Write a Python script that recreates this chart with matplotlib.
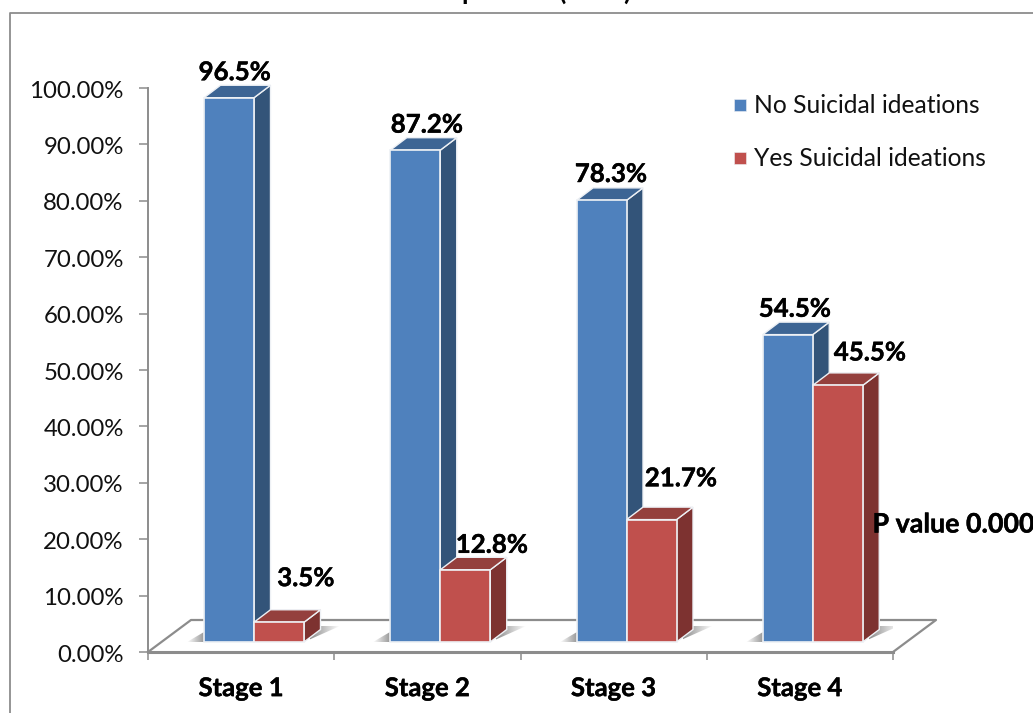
import numpy as np
import matplotlib
matplotlib.use("Agg")
import matplotlib.pyplot as plt
from matplotlib.patches import Polygon
from matplotlib.transforms import ScaledTranslation
import matplotlib.patheffects as pe

plt.rcParams['font.family'] = ['Lato', 'DejaVu Sans']

stages = ['Stage 1', 'Stage 2', 'Stage 3', 'Stage 4']
no_ideation = [96.5, 87.2, 78.3, 54.5]
yes_ideation = [3.5, 12.8, 21.7, 45.5]
series_names = ['No Suicidal ideations', 'Yes Suicidal ideations']
yticks = [0, 10, 20, 30, 40, 50, 60, 70, 80, 90, 100]

W, H = 1033, 713
fig = plt.figure(figsize=(W / 100, H / 100), dpi=100)
fig.patch.set_facecolor('white')

# axes box = plot area, everything else is drawn with clip_on=False
x0, x1, ytop, ybot = 148, 893, 88, 652
ax = fig.add_axes([x0 / W, 1 - ybot / H, (x1 - x0) / W, (ybot - ytop) / H])
ax.set_xlim(0, 4)
ax.set_ylim(0, 100)
ax.patch.set_alpha(0)

# conversion of pixel offsets to data units
ux = 4 / (x1 - x0)
uy = 100 / (ybot - ytop)
grey = '#8c8c8c'
edge = '#eef1f5'
bold = [pe.withStroke(linewidth=0.3, foreground='black')]

# outer frame
fig.add_artist(plt.Line2D([9.5 / W, 9.5 / W, 1], [0, 1 - 13 / H, 1 - 13 / H], color=grey, lw=1.3))

# bottoms of the title glyphs at the top edge of the page
for ch, px in zip(['p', '(', ')'], [469, 563, 627]):
    fig.text(px / W, 1.0, ch, ha='center', va='baseline', fontsize=19, fontweight='bold', color='black')

for s in ['top', 'right', 'bottom']:
    ax.spines[s].set_visible(False)
ax.spines['left'].set_color(grey)
ax.spines['left'].set_linewidth(1.4)
ax.set_yticks(yticks)
ax.set_yticklabels(['%.2f%%' % v for v in yticks], fontsize=17.3, color='#111111')
ax.set_xticks(range(5))
ax.set_xticklabels([])
ax.tick_params(axis='y', length=6.5, width=1.1, color=grey, pad=11)
ax.tick_params(axis='x', length=6, width=1.1, color=grey)
# nudge the y labels down by a pixel
for lab in ax.get_yticklabels():
    lab.set_transform(lab.get_transform() + ScaledTranslation(0, -1 / 100, fig.dpi_scale_trans))

# floor of the 3d plot
fdx, fdy = 43 * ux, 32 * uy
ax.plot([0, fdx, 4 + fdx, 4], [0, fdy, fdy, 0], color=grey, lw=1.6, clip_on=False, zorder=1)
ax.plot([0, 4], [0, 0], color=grey, lw=2.2, clip_on=False, zorder=1)

bar_w = 50 * ux
off = 56 * ux
base = 10 * uy
ddx, ddy = 16.5 * ux, 12.5 * uy


def shadow(xa, xb, ya, yb, poly, dark_left):
    # soft grey wedge on the floor beside a bar
    rgba = np.zeros((1, 64, 4))
    rgba[..., :3] = 0.5
    rgba[..., 3] = np.linspace(0.9, 0, 64) if dark_left else np.linspace(0, 0.8, 64)
    im = ax.imshow(rgba, extent=(xa, xb, ya, yb), aspect='auto', zorder=2)
    p = Polygon(poly, fc='none', ec='none')
    ax.add_patch(p)
    im.set_clip_path(p)


def bar3d(x, val, front, side, top):
    y0, y1 = base, base + val
    w = bar_w
    ax.add_patch(Polygon([(x + w, y0), (x + w + ddx, y0 + ddy), (x + w + ddx, y1 + ddy), (x + w, y1)],
                         fc=side, ec=edge, lw=1.0, clip_on=False, zorder=3))
    ax.add_patch(Polygon([(x, y1), (x + ddx, y1 + ddy), (x + w + ddx, y1 + ddy), (x + w, y1)],
                         fc=top, ec=edge, lw=1.0, clip_on=False, zorder=3))
    ax.add_patch(Polygon([(x, y0), (x + w, y0), (x + w, y1), (x, y1)],
                         fc=front, ec=edge, lw=1.2, clip_on=False, zorder=4))


for i in range(4):
    xb = i + off
    # shadows either side of the pair
    lx = xb - 17 * ux
    shadow(lx, xb, base, base + 10 * uy, [(lx, base), (xb, base), (xb, base + 10 * uy)], False)
    rx = xb + 2 * bar_w
    shadow(rx + 6 * ux, rx + 36 * ux, base, base + 16 * uy,
           [(rx, base), (rx + 16 * ux, base + 16 * uy), (rx + 36 * ux, base + 16 * uy)], True)
    bar3d(xb, no_ideation[i], '#4f81bd', '#335479', '#3d6594')
    bar3d(xb + bar_w, yes_ideation[i], '#c0504d', '#7d3230', '#94403d')
    ax.text(i + 0.5, -6.4, stages[i], ha='center', va='center', fontsize=18.5, fontweight='bold',
            color='black', path_effects=bold)

ax.set_xlim(0, 4)
ax.set_ylim(0, 100)

# value labels sit wherever they were placed by hand on the chart
no_lab_x = [0.467, 1.498, 2.486, 3.474]
no_lab_y = [102.8, 93.5, 84.75, 60.85]
yes_lab_x = [0.848, 1.847, 2.862, 3.877]
yes_lab_y = [13.1, 19.0, 30.8, 53.1]
for i in range(4):
    ax.text(no_lab_x[i], no_lab_y[i], '%.1f%%' % no_ideation[i], ha='center', va='center', fontsize=18.6,
            fontweight='bold', color='black', clip_on=False, path_effects=bold)
    ax.text(yes_lab_x[i], yes_lab_y[i], '%.1f%%' % yes_ideation[i], ha='center', va='center', fontsize=18.6,
            fontweight='bold', color='black', clip_on=False, path_effects=bold)

ax.text(3.89, 22.6, 'P value 0.000', ha='left', va='center', fontsize=19.3, fontweight='bold',
        color='black', clip_on=False, path_effects=bold, zorder=6)

# legend built by hand: square key and label
legend_colors = ['#4f81bd', '#c0504d']
legend_y = [96.95, 87.55]
for n, c, ly in zip(series_names, legend_colors, legend_y):
    ax.plot([3.178], [ly], marker='s', ms=9.2, color=c, mec=edge, mew=0.4, clip_on=False, zorder=5)
    ax.text(3.254, ly, n, ha='left', va='center', fontsize=17.7, color='#111111', clip_on=False)

fig.savefig('out.png', dpi=100)
